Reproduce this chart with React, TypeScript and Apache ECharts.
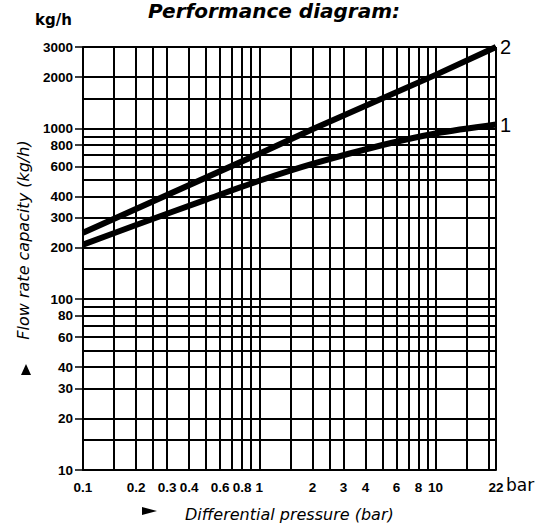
import React, { useEffect, useRef } from "react";
import * as echarts from "echarts";

// Curve 1 (concave in log-log)
const pressure1 = [0.1, 0.2, 0.5, 1, 2, 5, 10, 22];
const flow1 = [209, 272, 383, 494, 620, 800, 935, 1055];
// Curve 2 (straight in log-log)
const pressure2 = [0.1, 1, 2, 10, 22];
const flow2 = [245, 712, 990, 2060, 3000];

const xGridValues = [0.1, 0.15, 0.2, 0.25, 0.3, 0.4, 0.5, 0.6, 0.7, 0.8, 0.9, 1, 1.5, 2, 2.5, 3, 4, 5, 6, 7, 8, 9, 10, 15, 20, 22];
const yGridValues = [10, 15, 20, 30, 40, 50, 60, 70, 80, 90, 100, 150, 200, 300, 400, 500, 600, 700, 800, 900, 1000, 1500, 2000, 3000];
const xTickLabels = [0.1, 0.2, 0.3, 0.4, 0.6, 0.8, 1, 2, 3, 4, 6, 8, 10, 22];
const yTickLabels = [10, 20, 30, 40, 60, 80, 100, 200, 300, 400, 600, 800, 1000, 2000, 3000];

const TICK_FONT = "Liberation Sans, Arial, sans-serif";
const TEXT_FONT = "DejaVu Sans, Verdana, sans-serif";

export default function App() {
  const ref = useRef<HTMLDivElement>(null);
  useEffect(() => {
    if (!ref.current) return;
    const chart = echarts.init(ref.current, undefined, { renderer: "svg" });
    const labelStyle = {
      color: "#000",
      fontFamily: TICK_FONT,
      fontWeight: "bold" as const,
      fontSize: 13.5,
    };
    const endLabelStyle = {
      show: true,
      color: "#000",
      fontFamily: TICK_FONT,
      fontSize: 20,
      distance: 4,
    };
    const option: any = {
      animation: false,
      backgroundColor: "#fff",
      grid: { left: 83, right: 56, top: 47, bottom: 54 },
      xAxis: {
        type: "log",
        logBase: 10,
        min: 0.1,
        max: 22,
        axisLine: { show: true, onZero: false, lineStyle: { color: "#000", width: 2 } },
        axisTick: { show: false },
        splitLine: { show: false },
        axisLabel: {
          ...labelStyle,
          customValues: xTickLabels,
          margin: 10,
          formatter: (v: number) => String(v),
        },
      },
      yAxis: {
        type: "log",
        logBase: 10,
        min: 10,
        max: 3000,
        axisLine: { show: true, onZero: false, lineStyle: { color: "#000", width: 2 } },
        axisTick: {
          show: true,
          customValues: yTickLabels,
          length: 8,
          lineStyle: { color: "#000", width: 1.5 },
        },
        splitLine: { show: false },
        axisLabel: {
          ...labelStyle,
          customValues: yTickLabels,
          margin: 10,
          formatter: (v: number) => String(v),
        },
      },
      series: [
        {
          type: "line",
          data: [],
          z: 1,
          markLine: {
            silent: true,
            symbol: "none",
            animation: false,
            label: { show: false },
            lineStyle: { color: "#000", width: 2, type: "solid" },
            data: [
              ...xGridValues.map((v) => ({ xAxis: v })),
              ...yGridValues.map((v) => ({ yAxis: v })),
            ],
          },
        },
        {
          type: "line",
          name: "1",
          data: pressure1.map((p, i) => [p, flow1[i]]),
          smooth: 0.3,
          symbol: "none",
          z: 5,
          lineStyle: { color: "#000", width: 6 },
          endLabel: { ...endLabelStyle, formatter: "1" },
        },
        {
          type: "line",
          name: "2",
          data: pressure2.map((p, i) => [p, flow2[i]]),
          symbol: "none",
          z: 5,
          lineStyle: { color: "#000", width: 6 },
          endLabel: { ...endLabelStyle, formatter: "2" },
        },
      ],
      graphic: [
        {
          type: "text",
          x: 274,
          y: 11,
          style: {
            text: "Performance diagram:",
            fill: "#000",
            font: `italic bold 20px ${TEXT_FONT}`,
            align: "center",
            verticalAlign: "middle",
          },
        },
        {
          type: "text",
          x: 35,
          y: 20,
          style: {
            text: "kg/h",
            fill: "#000",
            font: `bold 15px ${TEXT_FONT}`,
            align: "left",
            verticalAlign: "middle",
          },
        },
        {
          type: "text",
          x: 23,
          y: 240,
          rotation: Math.PI / 2,
          style: {
            text: "Flow rate capacity (kg/h)",
            fill: "#000",
            font: `italic 16px ${TEXT_FONT}`,
            align: "center",
            verticalAlign: "middle",
          },
        },
        {
          type: "polygon",
          shape: { points: [[21, 375], [31, 375], [26, 364]] },
          style: { fill: "#000" },
        },
        {
          type: "polygon",
          shape: { points: [[142, 507], [157, 511], [142, 515]] },
          style: { fill: "#000" },
        },
        {
          type: "text",
          x: 185,
          y: 514,
          style: {
            text: "Differential pressure (bar)",
            fill: "#000",
            font: `italic 16px ${TEXT_FONT}`,
            align: "left",
            verticalAlign: "middle",
          },
        },
        {
          type: "text",
          x: 506,
          y: 485,
          style: {
            text: "bar",
            fill: "#000",
            font: `17px ${TEXT_FONT}`,
            align: "left",
            verticalAlign: "middle",
          },
        },
      ],
    };
    chart.setOption(option);
    return () => chart.dispose();
  }, []);
  return (
    <div
      ref={ref}
      style={{ position: "absolute", left: 0, top: 0, width: 552, height: 524, background: "#fff" }}
    />
  );
}
